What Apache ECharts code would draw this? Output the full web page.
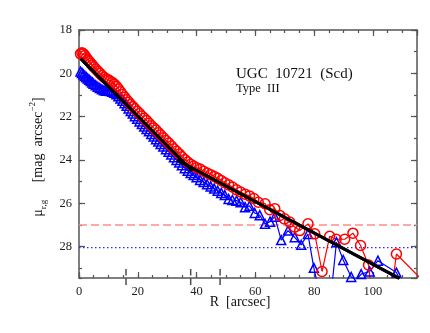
<!DOCTYPE html>
<html>
<head>
<meta charset="utf-8">
<script src="https://cdn.jsdelivr.net/npm/echarts@6/dist/echarts.min.js"></script>
<style>
  html, body { margin: 0; padding: 0; background: #fff; }
  #main { width: 430px; height: 333px; }
</style>
</head>
<body>
<div id="main"></div>
<script>
// radial profiles [R (arcsec), mu (mag arcsec^-2)]
const redProfile = [
  [0.5,19.10],[1.0,19.05],[1.5,19.10],[2.0,19.18],[2.5,19.28],[3.0,19.38],[3.5,19.46],[4.0,19.54],[4.5,19.62],[5.0,19.70],
  [5.7,19.80],[6.4,19.90],[7.1,20.00],[7.8,20.10],[8.5,20.18],[9.2,20.25],[9.9,20.30],[10.6,20.36],[11.3,20.42],[12.0,20.50],
  [12.7,20.60],[13.4,20.72],[14.1,20.85],[14.8,20.98],[15.5,21.10],[16.2,21.22],[16.9,21.33],[17.6,21.44],[18.3,21.54],[19.0,21.64],
  [19.8,21.75],[20.6,21.86],[21.4,21.97],[22.2,22.08],[23.0,22.18],[23.8,22.30],[24.6,22.42],[25.4,22.52],[26.2,22.62],[27.0,22.74],
  [27.8,22.85],[28.7,22.98],[29.6,23.10],[30.5,23.22],[31.4,23.35],[32.3,23.48],[33.2,23.60],[34.1,23.72],[35.0,23.85],[36.0,23.98],
  [37.0,24.10],[38.0,24.20],[39.0,24.28],[40.0,24.36],[41.2,24.42],[42.4,24.52],[43.6,24.60],[44.8,24.68],[46.0,24.76],[47.2,24.85],
  [48.4,24.95],[49.6,25.05],[50.9,25.15],[52.2,25.25],[53.6,25.38],[55.0,25.48],[56.5,25.58],[58.0,25.66],[59.5,25.78],[61.0,25.95],
  [63.3,26.02],[64.9,26.30],[66.6,26.25],[68.3,26.56],[69.9,26.72],[71.7,26.87],[73.4,27.10],[75.1,27.26],[77.9,26.95],[80.2,27.41],
  [82.7,29.15],[85.3,27.52],[87.5,27.66],[90.4,27.66],[93.2,27.38],[95.8,27.95],[98.5,28.85],[100.8,31.5],[104.5,32.0],[108.0,28.34],
  [120.0,30.0]
];
const blueProfile = [
  [0.5,19.92],[1.0,19.98],[1.5,20.05],[2.0,20.12],[2.5,20.18],[3.0,20.24],[3.5,20.30],[4.0,20.36],[4.5,20.42],[5.0,20.48],
  [5.7,20.55],[6.4,20.62],[7.1,20.68],[7.8,20.74],[8.5,20.78],[9.2,20.80],[9.9,20.81],[10.6,20.82],[11.3,20.85],[12.0,20.90],
  [12.7,20.97],[13.4,21.06],[14.1,21.16],[14.8,21.27],[15.5,21.38],[16.2,21.50],[16.9,21.62],[17.6,21.74],[18.3,21.86],[19.0,21.98],
  [19.8,22.10],[20.6,22.22],[21.4,22.34],[22.2,22.46],[23.0,22.57],[23.8,22.68],[24.6,22.80],[25.4,22.92],[26.2,23.04],[27.0,23.15],
  [27.8,23.26],[28.7,23.38],[29.6,23.50],[30.5,23.62],[31.4,23.75],[32.3,23.88],[33.2,24.00],[34.1,24.12],[35.0,24.25],[36.0,24.38],
  [37.0,24.50],[38.0,24.60],[39.0,24.70],[40.0,24.80],[41.2,24.92],[42.4,25.02],[43.6,25.12],[44.8,25.22],[46.0,25.32],[47.2,25.42],
  [48.4,25.52],[49.6,25.62],[50.9,25.80],[52.2,25.85],[53.6,25.88],[55.0,25.95],[56.5,26.18],[58.0,26.12],[59.8,26.45],[61.5,26.55],
  [63.3,26.95],[65.0,26.85],[66.6,26.62],[68.8,27.70],[71.1,27.26],[73.4,27.57],[75.6,27.92],[77.9,27.42],[79.9,28.98],[82.6,30.6],
  [85.0,31.2],[87.6,27.80],[89.9,28.62],[92.6,29.40],[94.2,29.55],[96.0,29.27],[98.9,29.15],[101.7,28.65],[108.0,29.20],[111.0,30.0]
];
// broken exponential fit (inner / outer disc)
const innerFit = [[0.6,19.33],[38.5,24.50]];
const outerFit = [[33.4,24.00],[109.0,29.47]];
// limiting surface brightness levels
const limitRed = 27.0;
const limitBlue = 28.05;
// break radii marked on the R axis
const breakR = [16, 38, 48];

const xMin = 0, xMax = 115;
const yMin = 18, yMax = 29.45;

const FONT = 'Liberation Serif';
const AXIS_COL = '#555';

var myChart = echarts.init(document.getElementById('main'));

function xAx(pos, interval, len, labels) {
  return {
    type: 'value', position: pos, min: xMin, max: xMax, interval: interval,
    axisLine: { show: labels, onZero: false, lineStyle: { color: AXIS_COL, width: 1.5 } },
    axisTick: { show: true, inside: true, length: len, lineStyle: { color: AXIS_COL, width: 1.2 } },
    axisLabel: { show: labels && pos === 'bottom', showMaxLabel: false, margin: 7, color: '#222', fontFamily: FONT, fontSize: 12.5 },
    splitLine: { show: false }
  }
}
function yAx(pos, interval, len, labels) {
  return {
    type: 'value', position: pos, min: yMin, max: yMax, interval: interval, inverse: true,
    axisLine: { show: labels, onZero: false, lineStyle: { color: AXIS_COL, width: 1.5 } },
    axisTick: { show: true, inside: true, length: len, lineStyle: { color: AXIS_COL, width: 1.2 } },
    axisLabel: { show: labels && pos === 'left', showMaxLabel: false, margin: 7, color: '#222', fontFamily: FONT, fontSize: 12.5 },
    splitLine: { show: false }
  }
}

var option = {
  animation: false,
  backgroundColor: '#fff',
  grid: { left: 79, right: 13, top: 30, bottom: 55 },
  xAxis: [xAx('bottom', 20, 6, true), xAx('bottom', 5, 3, false), xAx('top', 20, 6, true), xAx('top', 5, 3, false)],
  yAxis: [yAx('left', 2, 6, true), yAx('left', 1, 3, false), yAx('right', 2, 6, true), yAx('right', 1, 3, false)],
  graphic: [
    { id: 'title', type: 'text', x: 236, y: 74, style: { text: 'UGC  10721  (Scd)', align: 'left', verticalAlign: 'middle', fontFamily: FONT, fontSize: 15, fill: '#111' } },
    { id: 'type', type: 'text', x: 236, y: 89, style: { text: 'Type  III', align: 'left', verticalAlign: 'middle', fontFamily: FONT, fontSize: 12.5, fill: '#111' } },
    { id: 'xname', type: 'text', x: 240, y: 302, style: { text: 'R  [arcsec]', align: 'center', verticalAlign: 'middle', fontFamily: FONT, fontSize: 14, fill: '#111' } },
    {
      id: 'yname', type: 'text', x: 38, y: 157, rotation: Math.PI / 2,
      style: {
        text: '{m|μ}{s|r,g}{m|     [mag  arcsec}{p|−2}{m|]}',
        align: 'center', verticalAlign: 'middle', fill: '#111',
        rich: {
          m: { fontFamily: FONT, fontSize: 14, lineHeight: 20, fill: '#111' },
          s: { fontFamily: FONT, fontSize: 9, lineHeight: 20, verticalAlign: 'bottom', fill: '#111' },
          p: { fontFamily: FONT, fontSize: 9, lineHeight: 20, verticalAlign: 'top', fill: '#111' }
        }
      }
    }
  ],
  series: [
    {
      type: 'line', data: [[xMin, limitRed], [xMax, limitRed]], symbol: 'none', silent: true,
      lineStyle: { color: '#ff8c8c', width: 1.5, type: [8, 4] }
    },
    {
      type: 'line', data: [[xMin, limitBlue], [xMax, limitBlue]], symbol: 'none', silent: true,
      lineStyle: { color: '#2a2aff', width: 1.2, type: [1.5, 2.5] }
    },
    {
      type: 'line', data: blueProfile, symbol: 'triangle', symbolSize: 9,
      lineStyle: { color: '#0000ff', width: 1.2 },
      itemStyle: { color: 'rgba(0,0,0,0)', borderColor: '#0000ff', borderWidth: 1.5 }
    },
    {
      type: 'line', data: redProfile, symbol: 'circle', symbolSize: 10,
      lineStyle: { color: '#ff0000', width: 1.2 },
      itemStyle: { color: 'rgba(0,0,0,0)', borderColor: '#ff0000', borderWidth: 1.5 }
    },
    {
      type: 'line', data: innerFit, symbol: 'none', z: 10, silent: true,
      lineStyle: { color: '#000', width: 3 }
    },
    {
      type: 'line', data: outerFit, symbol: 'none', z: 10, silent: true,
      lineStyle: { color: '#000', width: 3 }
    },
    {
      type: 'scatter', clip: false, silent: true, z: 10,
      data: breakR.map(function (r) { return [r, yMax] }),
      symbol: 'path://M0,0H1V6H0Z M0,9H1V15H0Z', symbolSize: [1.5, 16], symbolOffset: [0, -1],
      itemStyle: { color: '#222' }
    }
  ]
}
myChart.setOption(option)

// fit segments also laid over the markers, placed through the axes' own scales
var fitGraphics = [['fitInner', innerFit], ['fitOuter', outerFit]].map(function (f) {
  var p0 = myChart.convertToPixel({ xAxisIndex: 0, yAxisIndex: 0 }, f[1][0])
  var p1 = myChart.convertToPixel({ xAxisIndex: 0, yAxisIndex: 0 }, f[1][1])
  return {
    id: f[0], type: 'line', z: 100, silent: true,
    shape: { x1: p0[0], y1: p0[1], x2: p1[0], y2: p1[1] },
    style: { stroke: '#000', lineWidth: 3 }
  }
})
myChart.setOption({ graphic: fitGraphics })
</script>
</body>
</html>
